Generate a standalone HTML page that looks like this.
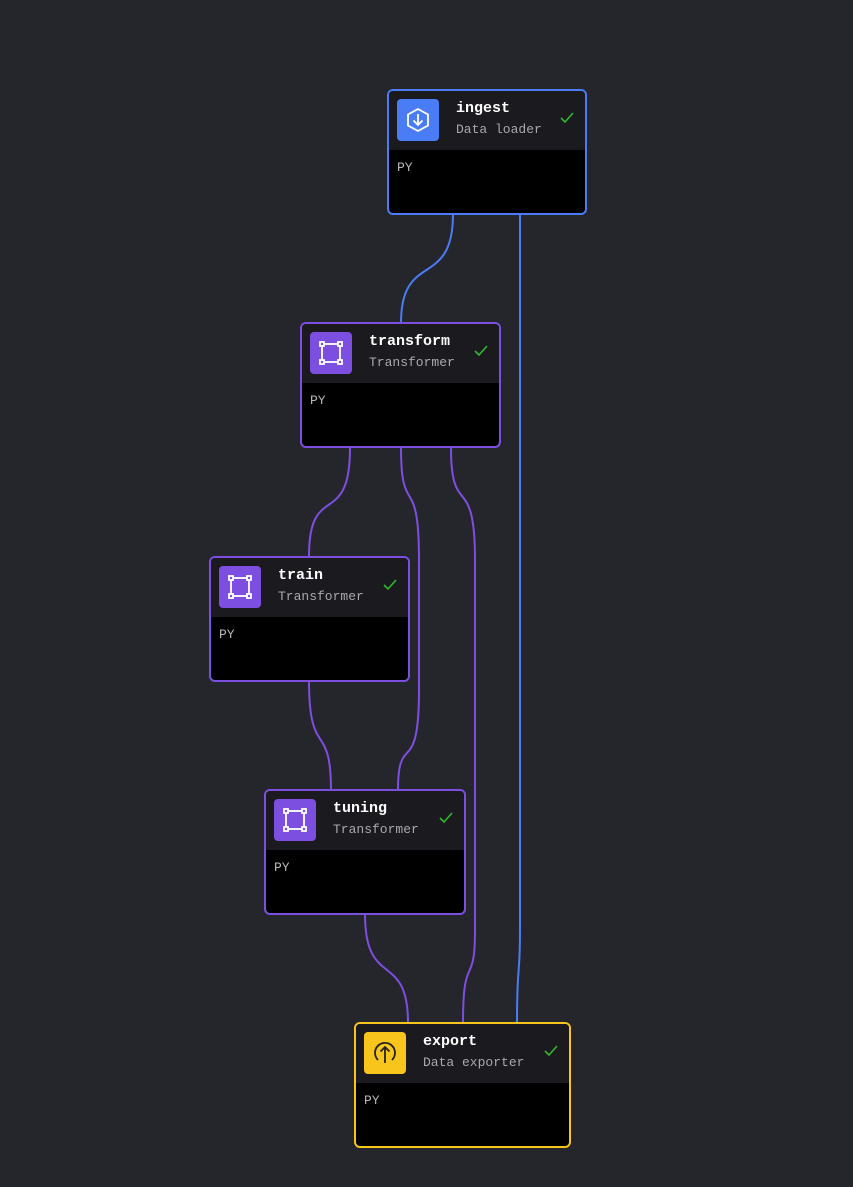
<!DOCTYPE html>
<html><head><meta charset="utf-8"><style>
body{margin:0;width:853px;height:1187px;background:#25262b;position:relative;overflow:hidden;font-family:"Liberation Mono",monospace}
.n{position:absolute;box-sizing:border-box;border:2px solid;border-radius:6px;background:#000;overflow:hidden;height:126px}
.h{height:59px;background:#1b1b1f;position:relative}
.ic{position:absolute;left:8px;top:8px;width:42px;height:42px;border-radius:4px}
.t{position:absolute;left:67px;top:9px;color:#fff;font-weight:bold;font-size:15px}
.s{position:absolute;left:67px;top:31px;color:#a8a8ad;font-size:13px}
.c{position:absolute;right:10px;top:20px}
.py{position:absolute;left:8px;top:69px;color:#b8b8bd;font-size:13px}
</style></head><body>
<svg width="853" height="1187" style="position:absolute;left:0;top:0" fill="none" stroke-width="2">
<path d="M453,214 C453,290 401,250 401,323" stroke="#4a7cf6"/>
<path d="M520,214 L520,930 C520,980 517,960 517,1023" stroke="#4a7cf6"/>
<path d="M350,448 C350,530 309,480 309,556" stroke="#7c4fe0"/>
<path d="M401,448 C401,520 419,470 419,560 L419,690 C419,780 398,730 398,790" stroke="#7c4fe0"/>
<path d="M451,448 C451,520 475,470 475,560 L475,930 C475,990 463,950 463,1023" stroke="#7c4fe0"/>
<path d="M309,681 C309,760 331,720 331,790" stroke="#7c4fe0"/>
<path d="M365,914 C365,990 408,950 408,1023" stroke="#7c4fe0"/>
</svg>

<div class="n" style="left:387px;top:89px;width:200px;border-color:#4a7cf6">
<div class="h"><div class="ic" style="background:#4a7cf6"><svg width="42" height="42" fill="none" stroke="#fff" stroke-width="1.8"><path d="M21,10 L31,15.5 L31,26.5 L21,32 L11,26.5 L11,15.5Z"/><path d="M21,15 V26 M16.5,21.5 L21,26 L25.5,21.5"/></svg></div>
<div class="t">ingest</div><div class="s">Data loader</div>
<svg class="c" width="16" height="14"><path d="M2,7 L6,11 L14,2" stroke="#2fb82f" stroke-width="1.6" fill="none"/></svg></div>
<div class="py">PY</div></div>

<div class="n" style="left:300px;top:322px;width:201px;border-color:#7c4fe0">
<div class="h"><div class="ic" style="background:#7c4fe0"><svg width="42" height="42" fill="none" stroke="#fff" stroke-width="1.8"><rect x="12" y="12" width="18" height="18"/><g fill="#7c4fe0"><rect x="10" y="10" width="4" height="4"/><rect x="28" y="10" width="4" height="4"/><rect x="10" y="28" width="4" height="4"/><rect x="28" y="28" width="4" height="4"/></g></svg></div>
<div class="t">transform</div><div class="s">Transformer</div>
<svg class="c" width="16" height="14"><path d="M2,7 L6,11 L14,2" stroke="#2fb82f" stroke-width="1.6" fill="none"/></svg></div>
<div class="py">PY</div></div>

<div class="n" style="left:209px;top:556px;width:201px;border-color:#7c4fe0">
<div class="h"><div class="ic" style="background:#7c4fe0"><svg width="42" height="42" fill="none" stroke="#fff" stroke-width="1.8"><rect x="12" y="12" width="18" height="18"/><g fill="#7c4fe0"><rect x="10" y="10" width="4" height="4"/><rect x="28" y="10" width="4" height="4"/><rect x="10" y="28" width="4" height="4"/><rect x="28" y="28" width="4" height="4"/></g></svg></div>
<div class="t">train</div><div class="s">Transformer</div>
<svg class="c" width="16" height="14"><path d="M2,7 L6,11 L14,2" stroke="#2fb82f" stroke-width="1.6" fill="none"/></svg></div>
<div class="py">PY</div></div>

<div class="n" style="left:264px;top:789px;width:202px;border-color:#7c4fe0">
<div class="h"><div class="ic" style="background:#7c4fe0"><svg width="42" height="42" fill="none" stroke="#fff" stroke-width="1.8"><rect x="12" y="12" width="18" height="18"/><g fill="#7c4fe0"><rect x="10" y="10" width="4" height="4"/><rect x="28" y="10" width="4" height="4"/><rect x="10" y="28" width="4" height="4"/><rect x="28" y="28" width="4" height="4"/></g></svg></div>
<div class="t">tuning</div><div class="s">Transformer</div>
<svg class="c" width="16" height="14"><path d="M2,7 L6,11 L14,2" stroke="#2fb82f" stroke-width="1.6" fill="none"/></svg></div>
<div class="py">PY</div></div>

<div class="n" style="left:354px;top:1022px;width:217px;border-color:#f7c51c">
<div class="h"><div class="ic" style="background:#f7c51c"><svg width="42" height="42" fill="none" stroke="#222" stroke-width="1.8"><path d="M14,28 A10,10 0 1 1 28,28"/><path d="M21,31 V15 M16.5,19.5 L21,15 L25.5,19.5"/></svg></div>
<div class="t">export</div><div class="s">Data exporter</div>
<svg class="c" width="16" height="14"><path d="M2,7 L6,11 L14,2" stroke="#2fb82f" stroke-width="1.6" fill="none"/></svg></div>
<div class="py">PY</div></div>
</body></html>
